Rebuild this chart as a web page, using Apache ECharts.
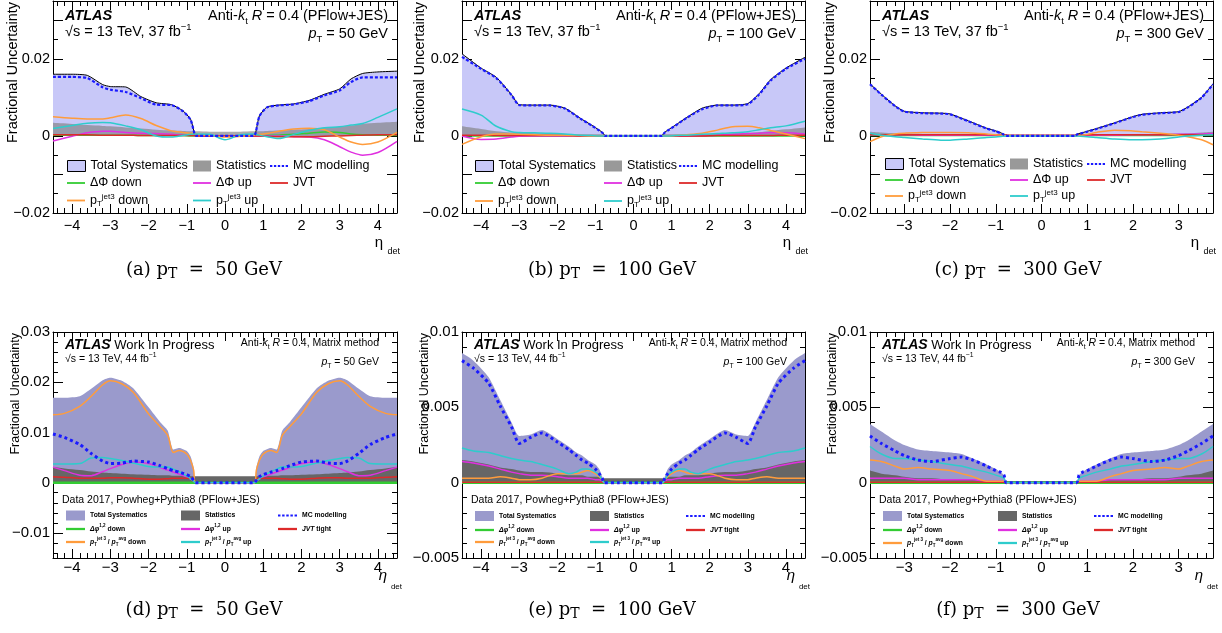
<!DOCTYPE html>
<html><head><meta charset="utf-8">
<script src="https://cdn.jsdelivr.net/npm/echarts@6/dist/echarts.min.js"></script>
<style>html,body{margin:0;padding:0;background:#fff}#main{width:1222px;height:633px}</style>
</head><body><div id="main"></div>
<script>
// ---------------- data ----------------
const etaAB = [-4.5,-4.0,-3.6,-3.2,-3.0,-2.6,-2.2,-1.8,-1.4,-1.1,-0.9,-0.8,-0.75,-0.4,0,0.4,0.75,0.8,0.9,1.1,1.4,1.8,2.2,2.6,3.0,3.3,3.6,4.0,4.5];
const etaC  = [-3.75,-3.5,-3.2,-3.0,-2.6,-2.2,-2.0,-1.6,-1.2,-1.0,-0.85,-0.78,-0.74,-0.4,0,0.4,0.74,0.78,0.85,1.0,1.2,1.6,2.0,2.2,2.6,3.0,3.2,3.5,3.75];
const etaDE = [-4.5,-4.2,-3.8,-3.5,-3.2,-3.0,-2.7,-2.4,-2.0,-1.7,-1.5,-1.35,-1.2,-1.0,-0.9,-0.82,-0.77,-0.4,0,0.4,0.77,0.82,0.9,1.0,1.2,1.35,1.5,1.7,2.0,2.4,2.7,3.0,3.2,3.5,3.8,4.2,4.5];
const etaF  = [-3.75,-3.5,-3.2,-3.0,-2.7,-2.4,-2.0,-1.75,-1.5,-1.2,-1.0,-0.9,-0.82,-0.77,-0.4,0,0.4,0.77,0.82,0.9,1.0,1.2,1.5,1.75,2.0,2.4,2.7,3.0,3.2,3.5,3.75];

// (a) pT = 50 GeV, 2015-16
const a_total    = [.0160,.0160,.0157,.0133,.0128,.0127,.0102,.0086,.0081,.0065,.0043,.0008,.0001,.0001,.0001,.0001,.0001,.0008,.0052,.0075,.0080,.0083,.0092,.0108,.0122,.0148,.0162,.0166,.0168];
const a_stat     = [.0034,.0031,.0028,.0026,.0025,.0022,.0019,.0016,.0014,.0013,.0012,.0012,.0012,.0011,.0011,.0011,.0012,.0012,.0012,.0013,.0014,.0016,.0018,.0021,.0024,.0027,.0031,.0034,.0037];
const a_mc       = [.0153,.0153,.0150,.0126,.0120,.0114,.0098,.0081,.0080,.0064,.0042,.0007,0,0,0,0,0,.0007,.0051,.0074,.0079,.0082,.0090,.0105,.0118,.0140,.0152,.0152,.0152];
const a_dphiDown = [.0002,.0002,.0002,.0002,.0002,.0002,.0001,.0001,.0001,.0001,0,0,0,0,0,0,0,0,0,.0001,.0002,.0004,.0007,.0010,.0009,.0005,.0003,.0002,.0001];
const a_dphiUp   = [-.0013,-.0001,.0008,.0012,.0012,.0009,.0007,.0006,.0004,.0002,.0002,.0001,.0001,0,0,0,0,0,0,0,0,-.0002,-.0003,-.0010,-.0028,-.0042,-.0050,-.0043,-.0014];
const a_jvt      = [.0003,.0003,.0003,.0002,.0002,.0002,.0001,.0001,.0001,.0001,.0001,.0001,0,0,0,0,0,0,0,-.0001,-.0002,-.0002,-.0002,-.0001,0,.0001,.0002,.0003,.0003];
const a_ptDown   = [.0050,.0046,.0044,.0044,.0047,.0054,.0045,.0027,.0013,.0009,.0007,.0006,.0005,.0001,-.0003,-.0001,.0002,.0003,.0004,.0006,.0012,.0018,.0020,.0016,-.0003,-.0016,-.0022,-.0016,.0009];
const a_ptUp     = [.0019,.0027,.0033,.0035,.0034,.0026,.0016,.0000,-.0003,.0001,.0004,.0005,.0005,.0004,-.0010,.0003,.0005,.0004,.0002,-.0002,-.0007,.0004,.0014,.0021,.0024,.0028,.0032,.0048,.0070];

// (b) pT = 100 GeV
const b_total    = [.0213,.0176,.0152,.0107,.0081,.0080,.0080,.0072,.0046,.0028,.0015,.0008,.0001,.0001,.0001,.0001,.0001,.0008,.0015,.0028,.0048,.0072,.0080,.0080,.0084,.0110,.0146,.0176,.0204];
const b_stat     = [.0025,.0018,.0012,.0009,.0008,.0007,.0006,.0005,.0004,.0004,.0004,.0004,.0003,.0003,.0003,.0003,.0003,.0004,.0004,.0004,.0004,.0005,.0006,.0007,.0008,.0010,.0013,.0017,.0022];
const b_mc       = [.0205,.0174,.0150,.0106,.0080,.0079,.0079,.0071,.0045,.0027,.0014,.0007,0,0,0,0,0,.0007,.0014,.0027,.0047,.0069,.0079,.0079,.0082,.0108,.0144,.0174,.0200];
const b_dphiDown = [0,0,0,0,0,0,0,0,0,0,0,0,0,0,0,0,0,0,0,0,0,0,0,0,0,0,0,0,0];
const b_dphiUp   = [0,-.0009,-.0008,-.0003,-.0001,0,0,0,0,0,0,0,0,0,0,0,0,0,0,0,0,.0001,.0002,.0004,.0006,.0007,.0008,.0008,.0005];
const b_jvt      = [.0002,.0002,.0001,.0001,.0001,.0001,.0001,.0001,0,0,0,0,0,0,0,0,0,0,0,0,0,0,.0001,.0001,.0001,.0001,.0001,.0002,.0002];
const b_ptDown   = [-.0022,-.0002,.0005,.0005,.0004,.0003,.0002,.0002,.0001,0,0,0,0,0,-.0001,0,0,0,0,.0001,.0003,.0007,.0015,.0024,.0025,.0021,.0014,.0005,-.0007];
const b_ptUp     = [.0070,.0054,.0025,.0011,.0009,.0008,.0007,.0005,.0002,.0001,0,0,0,0,0,0,0,0,0,.0001,.0002,.0004,.0006,.0008,.0011,.0016,.0021,.0026,.0038];

// (c) pT = 300 GeV
const c_total    = [.0135,.0108,.0078,.0064,.0060,.0059,.0057,.0039,.0020,.0013,.0006,.0002,.0001,.0001,.0001,.0001,.0001,.0005,.0007,.0012,.0019,.0034,.0050,.0056,.0060,.0063,.0075,.0100,.0135];
const c_stat     = [.0011,.0009,.0007,.0006,.0005,.0004,.0004,.0003,.0003,.0003,.0003,.0003,.0003,.0003,.0003,.0003,.0003,.0003,.0003,.0003,.0003,.0003,.0004,.0004,.0005,.0006,.0007,.0009,.0011];
const c_mc       = [.0134,.0107,.0077,.0063,.0059,.0058,.0056,.0038,.0019,.0012,.0005,.0001,0,0,0,0,0,.0004,.0006,.0011,.0018,.0033,.0049,.0055,.0059,.0062,.0074,.0099,.0134];
const c_dphiDown = [.0001,.0001,.0001,.0001,.0001,.0001,.0001,.0001,.0001,.0001,.0001,.0001,0,0,0,0,0,.0001,.0001,.0001,.0001,.0001,.0001,.0001,.0001,.0001,.0001,.0001,.0001];
const c_dphiUp   = [.0003,.0003,.0003,.0003,.0002,.0002,.0002,.0002,.0002,.0002,.0001,.0001,0,0,0,0,0,.0001,.0001,.0002,.0002,.0002,.0003,.0003,.0003,.0004,.0004,.0005,.0006];
const c_jvt      = [.0003,.0003,.0003,.0003,.0003,.0003,.0003,.0003,.0003,.0003,.0003,.0003,.0002,.0002,.0002,.0002,.0002,.0003,.0003,.0003,.0003,.0003,.0003,.0003,.0003,.0003,.0003,.0003,.0003];
const c_ptDown   = [-.0015,-.0002,.0005,.0007,.0009,.0009,.0009,.0008,.0005,.0003,.0002,.0001,0,0,0,0,0,.0001,.0002,.0004,.0009,.0015,.0013,.0011,.0007,.0002,-.0002,-.0010,-.0023];
const c_ptUp     = [.0007,.0002,-.0002,-.0004,-.0008,-.0011,-.0011,-.0008,-.0004,-.0003,-.0001,0,0,0,0,0,0,0,-.0001,-.0002,-.0004,-.0008,-.0010,-.0010,-.0008,-.0003,0,.0002,.0003];

// (d) pT = 50 GeV, 2017
const d_total    = [.0169,.0169,.0172,.0187,.0204,.0209,.0203,.0188,.0150,.0121,.0104,.0066,.0069,.0063,.0052,.0030,.0001,.0001,.0001,.0001,.0001,.0030,.0052,.0063,.0069,.0066,.0104,.0121,.0150,.0188,.0203,.0209,.0204,.0187,.0172,.0169,.0169];
const d_stat     = [.0031,.0028,.0025,.0022,.0020,.0019,.0018,.0017,.0016,.0015,.0015,.0014,.0014,.0014,.0013,.0013,.0013,.0013,.0013,.0013,.0013,.0013,.0013,.0014,.0014,.0014,.0015,.0015,.0016,.0017,.0018,.0019,.0020,.0022,.0025,.0028,.0031];
const d_mc       = [.0097,.0090,.0076,.0058,.0043,.0038,.0039,.0043,.0041,.0034,.0028,.0024,.0021,.0016,.0012,.0005,0,0,0,0,0,.0005,.0012,.0016,.0021,.0024,.0028,.0034,.0041,.0043,.0039,.0038,.0043,.0058,.0076,.0090,.0097];
const d_dphiDown = [0,0,0,0,0,0,0,0,0,0,0,0,0,0,0,0,0,0,0,0,0,0,0,0,0,0,0,0,0,0,0,0,0,0,0,0,0];
const d_dphiUp   = [.0031,.0024,.0015,.0014,.0022,.0028,.0036,.0041,.0038,.0030,.0025,.0021,.0017,.0011,.0007,.0003,0,0,0,0,0,.0003,.0007,.0011,.0017,.0021,.0025,.0030,.0038,.0041,.0036,.0028,.0022,.0014,.0015,.0024,.0031];
const d_jvt      = [.0012,.0011,.0009,.0009,.0009,.0010,.0010,.0009,.0007,.0007,.0008,.0009,.0009,.0009,.0009,.0008,0,0,0,0,0,.0008,.0009,.0009,.0009,.0009,.0008,.0007,.0007,.0009,.0010,.0010,.0009,.0009,.0009,.0011,.0012];
const d_ptDown   = [.0135,.0138,.0152,.0172,.0195,.0203,.0197,.0180,.0137,.0112,.0094,.0060,.0064,.0057,.0044,.0025,0,0,0,0,0,.0025,.0044,.0057,.0064,.0060,.0094,.0112,.0137,.0180,.0197,.0203,.0195,.0172,.0152,.0138,.0135];
const d_ptUp     = [.0037,.0037,.0038,.0049,.0050,.0048,.0044,.0039,.0032,.0031,.0031,.0027,.0022,.0013,.0008,.0003,0,0,0,0,0,.0003,.0008,.0013,.0022,.0027,.0031,.0031,.0032,.0039,.0044,.0048,.0050,.0049,.0038,.0037,.0037];

// (e) pT = 100 GeV, 2017
const e_total    = [.0086,.0081,.0070,.0055,.0040,.0031,.0032,.0035,.0029,.0024,.0020,.0018,.0015,.0012,.0009,.0004,.0001,.0001,.0001,.0001,.0001,.0004,.0009,.0012,.0015,.0018,.0020,.0024,.0029,.0035,.0032,.0031,.0040,.0055,.0070,.0081,.0086];
const e_stat     = [.0015,.0014,.0012,.0010,.0009,.0008,.0007,.0007,.0006,.0005,.0005,.0005,.0004,.0004,.0004,.0003,.0003,.0003,.0003,.0003,.0003,.0003,.0004,.0004,.0004,.0005,.0005,.0005,.0006,.0007,.0007,.0008,.0009,.0010,.0012,.0014,.0015];
const e_mc       = [.0081,.0076,.0066,.0051,.0037,.0026,.0030,.0033,.0027,.0022,.0018,.0015,.0013,.0009,.0006,.0003,0,0,0,0,0,.0003,.0006,.0009,.0013,.0015,.0018,.0022,.0027,.0033,.0030,.0026,.0037,.0051,.0066,.0076,.0081];
const e_dphiDown = [0,0,0,0,0,0,0,0,0,0,0,0,0,0,0,0,0,0,0,0,0,0,0,0,0,0,0,0,0,0,0,0,0,0,0,0,0];
const e_dphiUp   = [.0014,.0013,.0011,.0009,.0007,.0006,.0005,.0005,.0004,.0003,.0003,.0003,.0003,.0002,.0002,.0001,0,0,0,0,0,.0001,.0002,.0002,.0003,.0003,.0003,.0003,.0004,.0005,.0005,.0006,.0007,.0009,.0011,.0013,.0014];
const e_jvt      = [.00003,.00003,.00003,.00003,.00003,.00003,.00003,.00003,.00003,.00003,.00003,.00003,.00003,.00003,.00003,.00003,0,0,0,0,0,.00003,.00003,.00003,.00003,.00003,.00003,.00003,.00003,.00003,.00003,.00003,.00003,.00003,.00003,.00003,.00003];
const e_ptDown   = [.0003,.0003,.0003,.0004,.0003,.0002,.0002,.0003,.0006,.0006,.0006,.0007,.0008,.0006,.0004,.0002,0,0,0,0,0,.0002,.0004,.0006,.0008,.0007,.0006,.0006,.0006,.0003,.0002,.0002,.0003,.0004,.0003,.0003,.0003];
const e_ptUp     = [.0023,.0021,.0020,.0018,.0016,.0015,.0014,.0012,.0009,.0006,.0007,.0009,.0009,.0007,.0005,.0002,0,0,0,0,0,.0002,.0005,.0007,.0009,.0009,.0007,.0006,.0009,.0012,.0014,.0015,.0016,.0018,.0020,.0021,.0023];

// (f) pT = 300 GeV, 2017
const f_total    = [.0039,.0034,.0028,.0025,.0022,.0021,.0020,.0019,.0016,.0012,.0009,.0007,.0005,.0001,.0001,.0001,.0001,.0001,.0005,.0007,.0009,.0012,.0016,.0019,.0020,.0021,.0022,.0025,.0028,.0034,.0039];
const f_stat     = [.0008,.0006,.0005,.0004,.0003,.0003,.0002,.0002,.0002,.0001,.0001,.0001,.0001,.0001,.0001,.0001,.0001,.0001,.0001,.0001,.0001,.0001,.0002,.0002,.0002,.0003,.0003,.0004,.0005,.0006,.0008];
const f_mc       = [.0031,.0026,.0021,.0018,.0015,.0014,.0016,.0017,.0015,.0011,.0008,.0007,.0005,0,0,0,0,0,.0005,.0007,.0008,.0011,.0015,.0017,.0016,.0014,.0015,.0018,.0021,.0026,.0031];
const f_dphiDown = [0,0,0,0,0,0,0,0,0,0,0,0,0,0,0,0,0,0,0,0,0,0,0,0,0,0,0,0,0,0,0];
const f_dphiUp   = [.0003,.0003,.0003,.0003,.0002,.0002,.0002,.0002,.0002,.0001,.0001,.0001,.0001,0,0,0,0,0,.0001,.0001,.0001,.0001,.0002,.0002,.0002,.0002,.0002,.0003,.0003,.0003,.0003];
const f_jvt      = [.00002,.00002,.00002,.00002,.00002,.00002,.00002,.00002,.00002,.00002,.00002,.00002,.00002,0,0,0,0,0,.00002,.00002,.00002,.00002,.00002,.00002,.00002,.00002,.00002,.00002,.00002,.00002,.00002];
const f_ptDown   = [.0015,.0014,.0011,.0009,.0010,.0009,.0008,.0006,.0004,.0001,.0001,.0001,.0001,0,0,0,0,0,.0001,.0001,.0001,.0001,.0004,.0006,.0008,.0009,.0010,.0009,.0011,.0014,.0015];
const f_ptUp     = [.0024,.0019,.0016,.0016,.0015,.0014,.0012,.0011,.0009,.0007,.0005,.0004,.0003,0,0,0,0,0,.0003,.0004,.0005,.0007,.0009,.0011,.0012,.0014,.0015,.0016,.0016,.0019,.0024];

const ptLabels = ['50', '100', '300'];
const captionLetters = ['a','b','c','d','e','f'];

// ---------------- layout / style ----------------
const SANS = '"Liberation Sans", Arial, Helvetica, sans-serif';
const SERIF = '"DejaVu Serif", "Liberation Serif", serif';
const COL = {dphiDown:'#33cc33', dphiUp:'#e030e0', jvt:'#dd2a2a', ptDown:'#ff9c3c', ptUp:'#2ecccc', mc:'#1a1aff'};
// legend icon shapes (solid stroke / dotted stroke)
const ICON_LINE = 'path://M0,0H20V2H0Z';
const ICON_LINE_THICK = 'path://M0,0H20V2.4H0Z';
const ICON_DOTS = 'path://M0,0H2.6V2.2H0Z M4.4,0H7V2.2H4.4Z M8.8,0H11.4V2.2H8.8Z M13.2,0H15.8V2.2H13.2Z M17.6,0H20.2V2.2H17.6Z';

const panels = [
  {id:'a', row:0, col:0, left:53,  right:397,  top:1,   height:212, eta:etaAB, xr:4.5,  pt:ptLabels[0],
   d:{total:a_total, stat:a_stat, mc:a_mc, dphiDown:a_dphiDown, dphiUp:a_dphiUp, jvt:a_jvt, ptDown:a_ptDown, ptUp:a_ptUp},
   legX:[90,216,293], legY:[166,183,200.5]},
  {id:'b', row:0, col:1, left:462, right:805,  top:1,   height:212, eta:etaAB, xr:4.5,  pt:ptLabels[1],
   d:{total:b_total, stat:b_stat, mc:b_mc, dphiDown:b_dphiDown, dphiUp:b_dphiUp, jvt:b_jvt, ptDown:b_ptDown, ptUp:b_ptUp},
   legX:[498,627,702], legY:[166,183,201]},
  {id:'c', row:0, col:2, left:870, right:1213, top:1,   height:212, eta:etaC,  xr:3.75, pt:ptLabels[2],
   d:{total:c_total, stat:c_stat, mc:c_mc, dphiDown:c_dphiDown, dphiUp:c_dphiUp, jvt:c_jvt, ptDown:c_ptDown, ptUp:c_ptUp},
   legX:[908,1033,1110], legY:[164,180,196]},
  {id:'d', row:1, col:0, left:53,  right:397,  top:332, height:226, eta:etaDE, xr:4.5,  pt:ptLabels[0],
   d:{total:d_total, stat:d_stat, mc:d_mc, dphiDown:d_dphiDown, dphiUp:d_dphiUp, jvt:d_jvt, ptDown:d_ptDown, ptUp:d_ptUp},
   legX:[90,205,302], legY:[515.5,529,542], ymin:-0.015, ymax:0.03, yint:null, ylab:0.01},
  {id:'e', row:1, col:1, left:462, right:805,  top:332, height:226, eta:etaDE, xr:4.5,  pt:ptLabels[1],
   d:{total:e_total, stat:e_stat, mc:e_mc, dphiDown:e_dphiDown, dphiUp:e_dphiUp, jvt:e_jvt, ptDown:e_ptDown, ptUp:e_ptUp},
   legX:[499,614,710], legY:[516,530,542], ymin:-0.005, ymax:0.01, yint:0.005, ylab:0.005},
  {id:'f', row:1, col:2, left:870, right:1213, top:332, height:226, eta:etaF,  xr:3.75, pt:ptLabels[2],
   d:{total:f_total, stat:f_stat, mc:f_mc, dphiDown:f_dphiDown, dphiUp:f_dphiUp, jvt:f_jvt, ptDown:f_ptDown, ptUp:f_ptUp},
   legX:[907,1022,1118], legY:[516,530,543], ymin:-0.005, ymax:0.01, yint:0.005, ylab:0.005}
];
panels.forEach(p => { if (p.row === 0) { p.ymin = -0.02; p.ymax = 0.035; p.yint = 0.01; p.ylab = 0.02; } });

function fmtNum(v) {
  if (Math.abs(v) < 1e-12) return '0';
  return String(+v.toFixed(6)).replace('-', '\u2212');
}
function yFmt(every) {
  return v => { const r = v / every; return Math.abs(r - Math.round(r)) > 1e-6 ? '' : fmtNum(v); };
}
function xFmt(v) { return Math.abs(v - Math.round(v)) > 1e-6 ? '' : fmtNum(Math.round(v)); }

const grids = [], xAxes = [], yAxes = [], series = [], legends = [], gfx = [];

const LAB_TOP = {
  total:'Total Systematics', stat:'Statistics', mc:'MC modelling',
  dphiDown:'\u0394\u03A6 down', dphiUp:'\u0394\u03A6 up', jvt:'JVT',
  ptDown:'p{sub|T}{sup|jet3} down', ptUp:'p{sub|T}{sup|jet3} up'
};
const LAB_BOT = {
  total:'Total Systematics', stat:'Statistics', mc:'MC modelling',
  dphiDown:'{it|\u0394\u03C6}{sup|1,2} down', dphiUp:'{it|\u0394\u03C6}{sup|1,2} up', jvt:'{it|JVT} tight',
  ptDown:'{it|p}{sub|T}{sup|jet 3} / {it|p}{sub|T}{sup|avg} down', ptUp:'{it|p}{sub|T}{sup|jet 3} / {it|p}{sub|T}{sup|avg} up'
};
const LEG_POS = {total:[0,0], stat:[1,0], mc:[2,0], dphiDown:[0,1], dphiUp:[1,1], jvt:[2,1], ptDown:[0,2], ptUp:[1,2]};
const ORDER = ['total','stat','dphiDown','dphiUp','jvt','ptDown','ptUp','mc'];

panels.forEach((p, i) => {
  const top = p.row === 0;
  grids.push({left:p.left, top:p.top, width:p.right - p.left, height:p.height, containLabel:false});
  const axLine = {onZero:false, lineStyle:{color:'#000', width:1}};
  const split = Math.round(2 * p.xr);
  ['bottom','top'].forEach(pos => {
    xAxes.push({
      type:'value', gridIndex:i, position:pos, min:-p.xr, max:p.xr, splitNumber:split,
      axisLine:axLine,
      axisTick:{show:true, inside:true, length:9, lineStyle:{color:'#000', width:1}},
      minorTick:{show:true, splitNumber:5, length:5, lineStyle:{color:'#000', width:1}},
      splitLine:{show:false}, minorSplitLine:{show:false},
      axisLabel: pos === 'bottom'
        ? {show:true, color:'#000', fontFamily:SANS, fontSize: top ? 14.5 : 15, margin: top ? 5 : 2, formatter:xFmt}
        : {show:false}
    });
  });
  ['left','right'].forEach(pos => {
    const y = {
      type:'value', gridIndex:i, position:pos, min:p.ymin, max:p.ymax,
      axisLine:axLine,
      axisTick:{show:true, inside:true, length:10, lineStyle:{color:'#000', width:1}},
      minorTick:{show:true, splitNumber: top ? 2 : 5, length:5, lineStyle:{color:'#000', width:1}},
      splitLine:{show:false}, minorSplitLine:{show:false},
      axisLabel: pos === 'left'
        ? {show:true, color:'#000', fontFamily:SANS, fontSize: top ? 14.5 : 15, margin:3, formatter:yFmt(p.ylab)}
        : {show:false}
    };
    if (p.yint) y.interval = p.yint; else y.splitNumber = 5;
    yAxes.push(y);
  });

  ORDER.forEach(key => {
    const vals = p.d[key];
    const s = {
      type:'line', name:p.id + '|' + key, xAxisIndex:2 * i, yAxisIndex:2 * i,
      data:p.eta.map((e, k) => [e, vals[k]]),
      symbol:'none', showSymbol:false, smooth:0.3, animation:false, silent:true
    };
    if (key === 'total') {
      const c = top ? '#c8c8f8' : '#9a9acc';
      s.color = top ? '#000' : c;
      s.lineStyle = {color: top ? '#000' : c, width: top ? 1 : 0};
      s.areaStyle = {color:c, opacity:1};
      s.smooth = 0.2;
    } else if (key === 'stat') {
      const c = top ? '#808080' : '#666666';
      s.color = c;
      s.lineStyle = {width:0, color:c};
      s.areaStyle = {color:c, opacity: top ? 0.65 : 1};
    } else if (key === 'mc') {
      s.color = COL.mc;
      s.lineStyle = {color:COL.mc, width: top ? 2.2 : 3, type: top ? [3, 2] : [3, 3]};
      s.smooth = 0.2;
    } else {
      s.color = COL[key];
      s.lineStyle = {color:COL[key], width: (key === 'dphiDown' && !top) ? 2.5 : 1.5};
    }
    series.push(s);

    // legend entry (one legend component per entry, to reproduce the 3-column layout)
    const [ci, ri] = LEG_POS[key];
    const iw = top ? 18 : 19, ih = top ? 11 : 10, lh = top ? 15 : 11;
    const item = {name:s.name};
    if (key === 'total') {
      item.icon = 'rect';
      item.itemStyle = top ? {color:'#c8c8f8', borderColor:'#000', borderWidth:1} : {color:'#9a9acc', borderWidth:0};
    } else if (key === 'stat') {
      item.icon = 'rect';
      item.itemStyle = {color: top ? '#999999' : '#666666', borderWidth:0};
    } else if (key === 'mc') {
      item.icon = ICON_DOTS;
      item.itemStyle = {color:COL.mc, borderWidth:0};
    } else {
      item.icon = top ? ICON_LINE : ICON_LINE_THICK;
      item.itemStyle = {color:COL[key], borderWidth:0};
    }
    const label = (top ? LAB_TOP : LAB_BOT)[key];
    const fs = top ? 12.5 : 6.8;
    const fw = top ? 'normal' : 'bold';
    const sfs = top ? 8 : 4.5;
    legends.push({
      show:true, selectedMode:false, orient:'horizontal', padding:0, itemGap:0,
      left: p.legX[ci] - iw - 5, top: p.legY[ri] - lh / 2,
      itemWidth:iw, itemHeight:ih, symbolKeepAspect:true,
      data:[item],
      formatter: () => label,
      textStyle:{
        color:'#000', fontFamily:SANS, fontSize:fs, fontWeight:fw, lineHeight:lh,
        rich:{
          sub:{color:'#000', fontFamily:SANS, fontSize:sfs, fontWeight:fw, lineHeight:sfs + 1, verticalAlign:'bottom'},
          sup:{color:'#000', fontFamily:SANS, fontSize:sfs, fontWeight:fw, lineHeight:sfs + 1, verticalAlign:'top'},
          it:{color:'#000', fontFamily:SANS, fontSize:fs, fontWeight:fw, fontStyle:'italic', lineHeight:lh}
        }
      }
    });
  });

  // ---- annotations ----
  const L = p.left, R = p.right;
  const txt = (x, y, text, o) => gfx.push({type:'text', x:x, y:y, z:100, silent:true,
    style:Object.assign({text:text, fill:'#000', fontFamily:SANS, align:'left', verticalAlign:'middle'}, o || {})});
  const rich = (fs) => ({
    sub:{fill:'#000', fontFamily:SANS, fontSize:fs * 0.65, lineHeight:fs * 0.65, verticalAlign:'bottom'},
    sup:{fill:'#000', fontFamily:SANS, fontSize:fs * 0.65, lineHeight:fs * 0.65, verticalAlign:'top'},
    it:{fill:'#000', fontFamily:SANS, fontSize:fs, fontStyle:'italic', lineHeight:fs + 4},
    b:{fill:'#000', fontFamily:SANS, fontSize:fs * 1.22, fontStyle:'italic', fontWeight:'bold', lineHeight:fs + 4}
  });
  if (top) {
    txt(L + 12, 16, 'ATLAS', {fontSize:14.5, fontStyle:'italic', fontWeight:'bold'});
    txt(L + 12, 32, '\u221As = 13 TeV, 37 fb{sup|\u22121}', {fontSize:14.5, lineHeight:19, rich:rich(14.5)});
    txt(R - 9, 16, 'Anti-{it|k}{sub|t} {it|R} = 0.4 (PFlow+JES)', {fontSize:14.5, lineHeight:19, align:'right', rich:rich(14.5)});
    txt(R - 9, 34, '{it|p}{sub|T} = ' + p.pt + ' GeV', {fontSize:14.5, lineHeight:19, align:'right', rich:rich(14.5)});
  } else {
    txt(L + 12, 345, '{b|ATLAS} Work In Progress', {fontSize:13, lineHeight:17, rich:rich(11.5)});
    txt(L + 12, 359, '\u221As = 13 TeV, 44 fb{sup|\u22121}', {fontSize:10.5, lineHeight:14, rich:rich(10.5)});
    txt(R - 18, 343, 'Anti-{it|k}{sub|t} {it|R} = 0.4, Matrix method', {fontSize:10.5, lineHeight:14, align:'right', rich:rich(10.5)});
    txt(R - 18, 362, '{it|p}{sub|T} = ' + p.pt + ' GeV', {fontSize:10.5, lineHeight:14, align:'right', rich:rich(10.5)});
    txt(L + 9, 500, 'Data 2017, Powheg+Pythia8 (PFlow+JES)', {fontSize:10.5});
  }
  // axis titles
  const yTitleX = top ? [13, 420, 830][p.col] : [16, 425, 833][p.col];
  gfx.push({type:'text', x:yTitleX, y:p.top + 1, rotation:Math.PI / 2, z:100, silent:true,
    style:{text:'Fractional Uncertainty', fill:'#000', fontFamily:SANS, fontSize: top ? 14.5 : 12.5, align:'right', verticalAlign:'middle'}});
  if (top) {
    txt(R - 14, 243, '\u03B7', {fontSize:15, align:'right'});
    txt(R + 3, 252, 'det', {fontSize:9, align:'right'});
  } else {
    txt(R - 10, 576, '\u03B7', {fontSize:15, fontStyle:'italic', align:'right'});
    txt(R + 5, 587, 'det', {fontSize:8, align:'right'});
  }
  // caption
  const cx = [204, 612, 1018][p.col];
  gfx.push({type:'text', x:cx, y: top ? 270 : 610, z:100, silent:true,
    style:{text:'(' + captionLetters[i] + ') p{s|T}  =  ' + p.pt + ' GeV', fill:'#000', fontFamily:SERIF, fontSize:18,
      lineHeight:22, align:'center', verticalAlign:'middle',
      rich:{s:{fill:'#000', fontFamily:SERIF, fontSize:14, lineHeight:15, verticalAlign:'bottom'}}}});
});

const chart = echarts.init(document.getElementById('main'), null, {renderer:'canvas'});
chart.setOption({
  animation:false,
  backgroundColor:'#fff',
  grid:grids, xAxis:xAxes, yAxis:yAxes, series:series, legend:legends,
  graphic:{elements:gfx}
});
</script></body></html>
